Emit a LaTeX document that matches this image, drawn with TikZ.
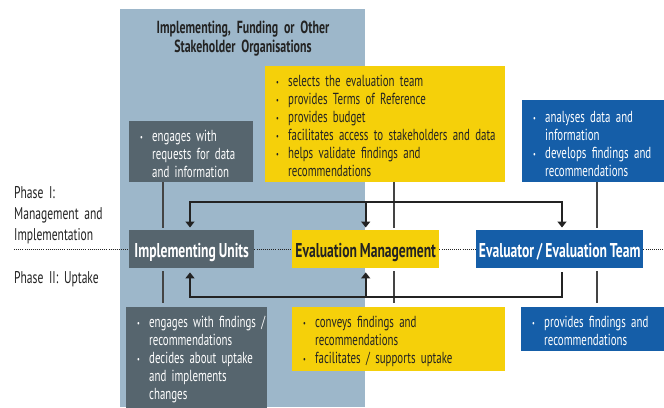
\documentclass[tikz,border=0pt]{standalone}
\usepackage{fontspec}
\setmainfont{PT Sans}[FakeStretch=0.68, WordSpace=0.85]
\usetikzlibrary{arrows.meta}
\definecolor{bgblue}{RGB}{157,183,202}
\definecolor{gbox}{RGB}{86,101,110}
\definecolor{ybox}{RGB}{245,208,10}
\definecolor{bbox}{RGB}{21,94,168}
\definecolor{ink}{RGB}{35,35,35}
\newcommand{\bul}[1]{\noindent\hangindent=16pt\hangafter=1\makebox[16pt][l]{\hspace{4pt}\raisebox{1.2pt}{\small\textbullet}}#1\par}
\newcommand{\nl}{\newline}
\begin{document}
\begin{tikzpicture}[x=1pt,y=-1pt,
  desc/.style={anchor=north west, inner xsep=7pt, inner ysep=0pt, align=left, text height=20pt, font=\fontsize{16}{18}\selectfont},
  mainbox/.style={anchor=north west, inner sep=0pt, text height=16pt, text depth=0pt, font=\fontsize{20}{22}\selectfont\bfseries},
  phase/.style={anchor=base west, inner sep=0pt, align=left, text width=120pt, text=ink, font=\fontsize{17}{21}\selectfont},
  arrline/.style={draw=ink, line width=1.8pt, line join=miter},
  tip/.style={arrows={-Triangle[width=9pt,length=6pt]}},
  link/.style={draw=ink!85, line width=1.1pt},
  dots/.style={draw=ink, line width=0.9pt, dash pattern=on 0.8pt off 1.3pt}]
\useasboundingbox (0,0) rectangle (664,407);
\fill[white] (0,0) rectangle (664,407);
\fill[bgblue] (120,9) rectangle (365,407);
\node[font=\fontsize{17.5}{19}\selectfont\bfseries, text=ink, align=center, text width=240pt, inner sep=0pt, anchor=base] (title) at (243,33)
  {Implementing, Funding or Other\\Stakeholder Organisations};
% description boxes
\node[desc, fill=gbox, text=white, text width=110pt, text depth=41pt] (gtop) at (129,121)
  {\bul{\mbox{engages with}\nl\mbox{requests for data}\nl\mbox{and information}}};
\node[desc, fill=ybox, text=ink, text width=226pt, text depth=96pt] (ytop) at (265,66)
  {\bul{\mbox{selects the evaluation team}}\bul{\mbox{provides Terms of Reference}}\bul{\mbox{provides budget}}\bul{\mbox{facilitates access to stakeholders and data}}\bul{\mbox{helps validate findings and}\nl\mbox{recommendations}}};
\node[desc, fill=bbox, text=white, text width=128pt, text height=22pt, text depth=60pt] (btop) at (522,100)
  {\bul{\mbox{analyses data and}\nl\mbox{information}}\bul{\mbox{develops findings and}\nl\mbox{recommendations}}};
\node[desc, fill=gbox, text=white, text width=127pt, text depth=82pt] (gbot) at (126,307)
  {\bul{\mbox{engages with findings /}\nl\mbox{recommendations}}\bul{\mbox{decides about uptake}\nl\mbox{and implements}\nl\mbox{changes}}};
\node[desc, fill=ybox, text=ink, text width=199pt, text depth=44pt] (ybot) at (292,307)
  {\bul{\mbox{conveys findings and}\nl\mbox{recommendations}}\bul{\mbox{facilitates / supports uptake}}};
\node[desc, fill=bbox, text=white, text width=129pt, text depth=24pt] (bbot) at (521,307)
  {\bul{\mbox{provides findings and}\nl\mbox{recommendations}}};
% main boxes
\node[mainbox, fill=gbox, text=white, minimum width=125pt, minimum height=38pt] (IU) at (129,230) {Implementing Units};
\node[mainbox, fill=ybox, text=ink, minimum width=147pt, minimum height=38pt] (EM) at (292,230) {Evaluation Management};
\node[mainbox, fill=bbox, text=white, minimum width=167pt, minimum height=38pt] (EV) at (476,230) {Evaluator / Evaluation Team};
% phase labels
\node[phase] (ph1) at (14,198) {Phase I:\\Management and\\Implementation};
\node[phase] (ph2) at (14,283) {Phase II: Uptake};
% dotted phase line
\coordinate (dl) at (14,249);
\coordinate (dr) at (664,249);
\draw[dots] (dl) -- (dl -| IU.west);
\draw[dots] (IU.east |- dl) -- (EM.west |- dl);
\draw[dots] (EM.east |- dl) -- (EV.west |- dl);
\draw[dots] (EV.east |- dl) -- (dr);
% thin links
\coordinate (xg) at (163,0);
\coordinate (xy) at (394,0);
\coordinate (xb) at (597,0);
\draw[link, shorten >=2pt] (gtop.south -| xg) -- (IU.north -| xg);
\draw[link, shorten <=3pt, shorten >=4pt] (IU.south -| xg) -- (gbot.north -| xg);
\draw[link, shorten >=2pt] (ytop.south -| xy) -- (EM.north -| xy);
\draw[link, shorten <=3pt, shorten >=4pt] (EM.south -| xy) -- (ybot.north -| xy);
\draw[link, shorten >=2pt] (btop.south -| xb) -- (EV.north -| xb);
\draw[link, shorten <=3pt, shorten >=4pt] (EV.south -| xb) -- (bbot.north -| xb);
% arrows
\coordinate (tL) at (190,202);
\coordinate (tR) at (562,202);
\coordinate (bY) at (0,297);
\draw[arrline, arrows={Triangle[width=9pt,length=6pt]-Triangle[width=9pt,length=6pt]}, shorten <=2.5pt, shorten >=2.5pt]
  (IU.north -| tL) -- (tL) -- (tR) -- (EV.north -| tR);
\draw[arrline, tip, shorten >=2.5pt] (EM.north |- tL) -- (EM.north);
\draw[arrline, tip, shorten <=4pt, shorten >=4pt]
  (EV.south -| tR) -- (tR |- bY) -- (bY -| tL) -- (IU.south -| tL);
\draw[arrline, tip, shorten >=4pt] (EM.south |- bY) -- (EM.south);
\end{tikzpicture}
\end{document}
